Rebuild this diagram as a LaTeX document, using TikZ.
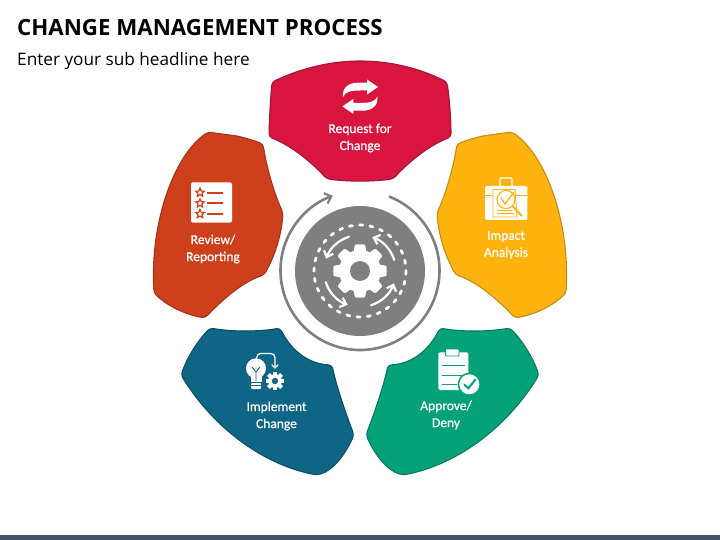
\documentclass[tikz,border=0pt]{standalone}
\usepackage{fontspec}
\setmainfont{Open Sans}
\newfontfamily\lblfont{Carlito}[RawFeature={embolden=0.7}]
\usetikzlibrary{arrows.meta,shapes.geometric}
\definecolor{cred}{HTML}{D9143F}\definecolor{ered}{HTML}{A5163F}
\definecolor{cyel}{HTML}{FFB30F}\definecolor{eyel}{HTML}{C48C14}
\definecolor{cgrn}{HTML}{05A178}\definecolor{egrn}{HTML}{0A7A5E}
\definecolor{cblu}{HTML}{0E6585}\definecolor{eblu}{HTML}{0B4E68}
\definecolor{cora}{HTML}{CE401B}\definecolor{eora}{HTML}{A0351C}
\definecolor{cgry}{HTML}{7F7F7F}\definecolor{cbar}{HTML}{44546A}
\newcommand\Q[6]{.. controls ({(4*#3-#5)/3},{(4*#4-#6)/3}) and ({(4*#3-#1)/3},{(4*#4-#2)/3}) .. (#5,#6)}
\tikzset{
 petal/.style={line width=1.1pt,line join=round,line cap=round,rounded corners=3.5pt},
 lbl/.style={text=white,font=\lblfont\fontsize{13.5}{17}\selectfont,align=center,inner sep=0pt},
 turn/.style={draw=white,line width=2.2pt,line cap=round,-{Straight Barb[length=5.5pt,width=10pt,line width=2.2pt]}},
}
\begin{document}
\begin{tikzpicture}[x=1pt,y=-1pt]
\useasboundingbox (0,0) rectangle (720,540);
\fill[white] (0,0) rectangle (720,540);
\fill[cbar] (0,535) rectangle (720,540);
\node[anchor=base west,inner sep=0pt,font=\bfseries\fontsize{22.3}{26}\selectfont] (title) at (17,36) {CHANGE MANAGEMENT PROCESS};
\node[anchor=base west,inner sep=0pt,font=\fontsize{17.2}{20}\selectfont] (sub) at (17,66) {Enter your sub headline here};
% petals
\draw[petal,fill=cred,draw=ered] (360,61) \Q{360}{61}{404}{66.2}{447}{82} \Q{447}{82}{450}{110}{451}{137} \Q{451}{137}{422}{153}{393}{179} \Q{393}{179}{360}{181}{327}{179} \Q{327}{179}{298}{153}{269}{137} \Q{269}{137}{270}{110}{272}{82} \Q{272}{82}{316.5}{66.2}{360}{61};
\draw[petal,fill=cyel,draw=eyel] (483,136) \Q{483}{136}{497}{134}{512}{132} .. controls (545,155) and (570,220) .. (566,293) \Q{566}{293}{543}{309}{515}{318} \Q{515}{318}{484}{290}{456}{275} \Q{456}{275}{443}{245}{437}{213} \Q{437}{213}{449}{180}{457}{144} \Q{457}{144}{470}{139.5}{483}{136};
\draw[petal,fill=cora,draw=eora] (237,136) \Q{237}{136}{222}{134}{208}{132} .. controls (175,155) and (150,220) .. (154,293) \Q{154}{293}{177}{309}{205}{318} \Q{205}{318}{236}{290}{264}{275} \Q{264}{275}{277}{245}{283}{213} \Q{283}{213}{271}{180}{263}{144} \Q{263}{144}{250}{139.5}{237}{136};
\draw[petal,fill=cgrn,draw=egrn] (475,331) \Q{475}{331}{492}{330.3}{510}{328} \Q{510}{328}{527}{350}{539}{375} .. controls (505,430) and (455,465) .. (403,475) \Q{403}{475}{383}{462}{366}{435} \Q{366}{435}{380}{395}{388}{365} \Q{388}{365}{418}{355}{440}{328} \Q{440}{328}{457}{330.3}{475}{331};
\draw[petal,fill=cblu,draw=eblu] (245,331) \Q{245}{331}{228}{330.3}{210}{328} \Q{210}{328}{193}{350}{181}{375} .. controls (215,430) and (265,465) .. (317,475) \Q{317}{475}{337}{462}{354}{435} \Q{354}{435}{340}{395}{332}{365} \Q{332}{365}{302}{355}{280}{328} \Q{280}{328}{263}{330.3}{245}{331};
% centre
\draw[cgry,line width=2.6pt,-{Straight Barb[length=6pt,width=11pt,line width=2.2pt]}] ([shift={(360,270.5)}]-68.6:79.5) arc (-68.6:250:79.5);
\fill[cgry] (360,271) circle (65);
\draw[white,line width=2.8pt,line cap=round,dash pattern=on 3.2pt off 7.1pt] (360,271) circle (46);
\foreach \a in {-108,-18,72,162}{
 \draw[turn] ([shift={(360,271)}]\a:36) arc (\a:\a-52:36);
}
\fill[white] (360,271) circle (21);
\foreach \a in {0,45,...,315}{
 \fill[white,rounded corners=1pt,rotate around={\a:(360,271)}] (353.5,252) -- (355,244.3) -- (365,244.3) -- (366.5,252) -- cycle;
}
\fill[cgry] (360,271) circle (10);
% request icon
\fill[white] (343,97) .. controls (342,88) and (348,82.7) .. (358,82.7) -- (367,82.7) -- (367,79.5) -- (378,87) -- (367,94.5) -- (367,90.5) -- (360,90.5) .. controls (350,90.5) and (345,92) .. cycle;
\fill[white,rotate around={180:(360.2,96.7)}] (343,97) .. controls (342,88) and (348,82.7) .. (358,82.7) -- (367,82.7) -- (367,79.5) -- (378,87) -- (367,94.5) -- (367,90.5) -- (360,90.5) .. controls (350,90.5) and (345,92) .. cycle;
% impact icon
\draw[white,line width=1.2pt,rounded corners=1pt] (500,186) -- (500,178) -- (512,178) -- (512,186);
\fill[white,rounded corners=1.5pt] (485,186) rectangle (527.3,220);
\draw[cyel,line width=.9pt] (485,195) -- (527.3,195);
\draw[cyel,fill=white,line width=.9pt] (493,189.5) -- (515,189.5) -- (517,217) -- (493,217) -- cycle;
\draw[cyel,line width=.9pt] (497,210) -- (512,210) (497,213.5) -- (514,213.5);
\draw[cyel,line width=2pt] (512.5,206) -- (522,216);
\draw[cyel,fill=white,line width=1.1pt] (506,199.5) circle (9);
\draw[cyel,line width=1.3pt] (501,198) -- (505,204) -- (514,192);
% approve icon
\fill[white,rounded corners=1.5pt] (438.3,352.3) rectangle (468.3,390);
\draw[cgrn,fill=white,line width=.8pt,rounded corners=.8pt] (445.5,349) rectangle (459,356);
\draw[cgrn,line width=1pt] (441.7,365.7) -- (465,365.7) (441.7,375) -- (465,375) (441.7,384.3) -- (457,384.3);
\fill[cgrn] (469.3,384.3) circle (11.7);
\fill[white] (469.3,384.3) circle (10);
\draw[cgrn,line width=2pt] (464,384.3) -- (468.3,388.3) -- (475.7,379.3);
% implement icon
\fill[white] (256,368.3) circle (10);
\fill[white] (250.5,374) rectangle (261.5,382);
\fill[white,rounded corners=1pt] (251,383) rectangle (261,389);
\draw[cblu,line width=.8pt] (256,381) -- (256,372) (252,367) -- (256,372) -- (260,367);
\draw[cblu,line width=.8pt] (250.5,385.5) -- (261.5,385.5);
\draw[white,line width=1.2pt,rounded corners=4pt,-{Straight Barb[length=3.5pt,width=6.5pt,line width=1.2pt]}] (256.7,357) -- (256.7,353.5) -- (275,353.5) -- (275,369);
\fill[white] (275,381) circle (6.8);
\foreach \a in {0,45,...,315}{
 \fill[white,rotate around={\a:(275,381)}] (273,375) rectangle (277,371.8);
}
\fill[cblu] (275,381) circle (3.2);
% review icon
\fill[white,rounded corners=1.5pt] (191,182.3) rectangle (232,222.7);
\foreach \y in {192.7,203.3,214}{
 \node[star,star points=5,star point ratio=2.2,draw=cora,fill=white,line width=1.2pt,inner sep=0pt,minimum size=9pt] (s\y) at (200,\y) {};
 \draw[cora,line width=1.7pt] (206.7,\y) -- (223.3,\y);
}
% labels
\node[lbl] (l1) at (360,138) {Request for\\Change};
\node[lbl] (l2) at (506,245) {Impact\\Analysis};
\node[lbl] (l3) at (446,415) {Approve/\\Deny};
\node[lbl] (l4) at (276.5,416) {Implement\\Change};
\node[lbl] (l5) at (213,249) {Review/\\Reporting};
\end{tikzpicture}
\end{document}
